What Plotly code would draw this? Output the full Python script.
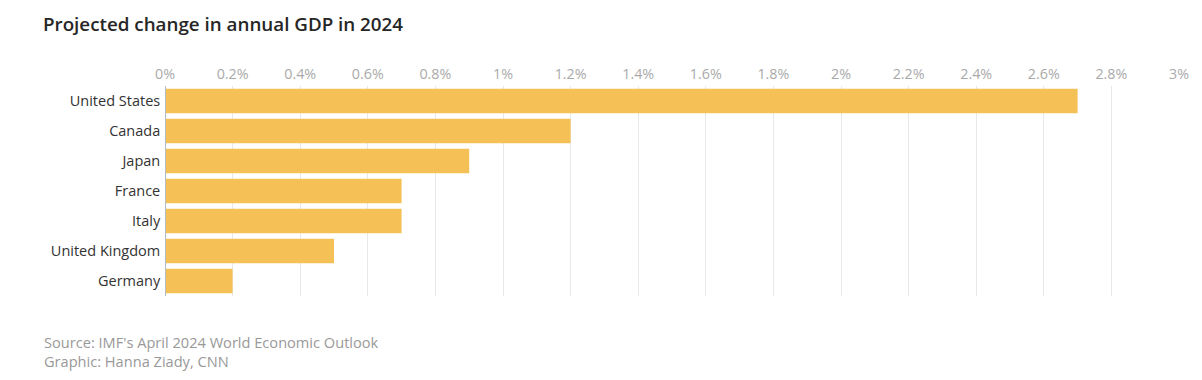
import plotly.graph_objects as go

countries = ["United States", "Canada", "Japan", "France", "Italy", "United Kingdom", "Germany"]
gdp_change = [2.7, 1.2, 0.9, 0.7, 0.7, 0.5, 0.2]
tick_vals = [0, 0.2, 0.4, 0.6, 0.8, 1, 1.2, 1.4, 1.6, 1.8, 2, 2.2, 2.4, 2.6, 2.8, 3]
tick_text = ["0%", "0.2%", "0.4%", "0.6%", "0.8%", "1%", "1.2%", "1.4%", "1.6%", "1.8%",
             "2%", "2.2%", "2.4%", "2.6%", "2.8%", "3%"]

FONT = "Open Sans, Arial, sans-serif"
W, H = 1202, 380
ML, MR, MT, MB = 165, 23, 86, 84

fig = go.Figure(go.Bar(
    x=gdp_change, y=countries, orientation="h",
    marker=dict(color="#F5C156", line=dict(width=0)),
    hoverinfo="x+y",
))

fig.update_layout(
    width=W, height=H,
    margin=dict(l=ML, r=MR, t=MT, b=MB),
    paper_bgcolor="white", plot_bgcolor="white",
    bargap=0.18,
    showlegend=False,
    font=dict(family=FONT, size=14, color="#333"),
    xaxis=dict(
        side="top", range=[0, 3], tickvals=tick_vals, ticktext=tick_text,
        showgrid=True, gridcolor="#e8e8e8", gridwidth=1,
        zeroline=False, showline=False, ticks="",
        ticklabelstandoff=3,
        tickfont=dict(family=FONT, size=14.3, color="#aaaaaa"),
        fixedrange=True,
    ),
    yaxis=dict(
        autorange="reversed", showgrid=False, zeroline=False, showline=False,
        ticks="", ticksuffix=" ", tickfont=dict(family=FONT, size=14.5, color="#333333"),
        fixedrange=True,
    ),
    shapes=[dict(type="line", xref="x", yref="paper", x0=0, x1=0, y0=0, y1=1,
                 line=dict(color="#b4bcc4", width=2))],
)

plot_h = H - MT - MB
plot_w = W - ML - MR

def px_to_paper(px_x, px_y):
    return (px_x - ML) / plot_w, (H - MB - px_y) / plot_h

tx, ty = px_to_paper(41, 24)
fig.add_annotation(text="Projected change in annual GDP in 2024", xref="paper", yref="paper",
                   x=tx, y=ty, xanchor="left", yanchor="middle", showarrow=False,
                   font=dict(family=FONT, size=18.8, color="#262626", weight=600))
sx, sy = px_to_paper(41.5, 342)
fig.add_annotation(text="Source: IMF's April 2024 World Economic Outlook", xref="paper", yref="paper",
                   x=sx, y=sy, xanchor="left", yanchor="middle", showarrow=False,
                   font=dict(family=FONT, size=14.6, color="#999999"))
gx, gy = px_to_paper(41.5, 361)
fig.add_annotation(text="Graphic: Hanna Ziady, CNN", xref="paper", yref="paper",
                   x=gx, y=gy, xanchor="left", yanchor="middle", showarrow=False,
                   font=dict(family=FONT, size=14.6, color="#999999"))

fig.write_html("out.html", config={"displayModeBar": False},
               post_script="document.body.style.margin='0';document.body.style.padding='0';")
